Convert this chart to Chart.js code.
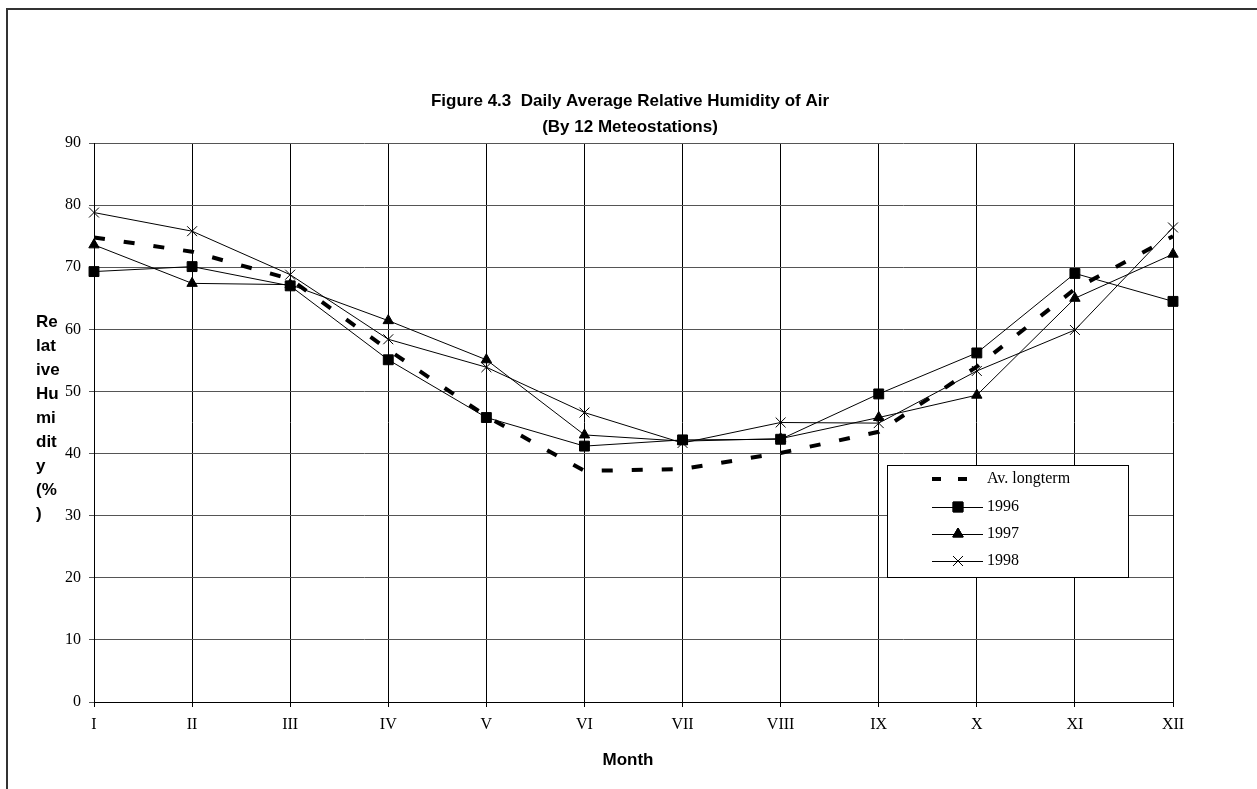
<!DOCTYPE html>
<html>
<head>
<meta charset="utf-8">
<script src="https://cdn.jsdelivr.net/npm/chart.js@4/dist/chart.umd.min.js"></script>
<style>
  html, body { margin: 0; padding: 0; background: #fff; }
  canvas { display: block; }
</style>
</head>
<body>
<canvas id="c" width="1257" height="789"></canvas>
<script>
const months = ["I", "II", "III", "IV", "V", "VI", "VII", "VIII", "IX", "X", "XI", "XII"];
const avLongterm = [74.8, 72.5, 68.1, 56.7, 46.0, 37.2, 37.5, 40.1, 43.5, 54.0, 66.5, 75.0];
const y1996 = [69.3, 70.1, 67.0, 55.1, 45.8, 41.2, 42.2, 42.3, 49.6, 56.2, 69.0, 64.5];
const y1997 = [73.6, 67.4, 67.2, 61.4, 55.1, 43.0, 42.0, 42.4, 45.8, 49.4, 65.0, 72.1];
const y1998 = [78.8, 75.8, 68.8, 58.4, 53.9, 46.6, 41.7, 45.0, 44.9, 53.3, 59.9, 76.4];
const yTicks = [0, 10, 20, 30, 40, 50, 60, 70, 80, 90];
const seriesNames = ["Av. longterm", "1996", "1997", "1998"];
const titleLines = ["Figure 4.3  Daily Average Relative Humidity of Air", "(By 12 Meteostations)"];
const yTitleLines = ["Re", "lat", "ive", "Hu", "mi", "dit", "y", "(%", ")"];
const xTitle = "Month";

const serif = "'Liberation Serif', 'Times New Roman', serif";
const sans = "'Liberation Sans', Arial, sans-serif";

const decor = {
  id: 'decor',
  beforeDraw(chart) {
    const ctx = chart.ctx;
    ctx.save();
    ctx.fillStyle = '#fff';
    ctx.fillRect(0, 0, chart.width, chart.height);
    ctx.restore();
  },
  afterDraw(chart) {
    const ctx = chart.ctx;
    ctx.save();
    // outer frame
    ctx.strokeStyle = '#333';
    ctx.lineWidth = 2;
    ctx.strokeRect(7, 9, 1400, 1000);
    // titles
    ctx.fillStyle = '#000';
    ctx.font = "bold 17px " + sans;
    ctx.textAlign = 'center';
    ctx.textBaseline = 'middle';
    ctx.fillText(titleLines[0], 630, 101);
    ctx.fillText(titleLines[1], 630, 127);
    ctx.fillText(xTitle, 628, 760);
    // y title
    ctx.textAlign = 'left';
    yTitleLines.forEach((t, i) => ctx.fillText(t, 36, 322 + i * 24));
    // legend
    const lx = 887, ly = 465, lw = 241, lh = 112;
    ctx.fillStyle = '#fff';
    ctx.fillRect(lx, ly, lw, lh);
    ctx.strokeStyle = '#000';
    ctx.lineWidth = 1;
    ctx.strokeRect(lx + 0.5, ly + 0.5, lw, lh);
    const rows = [479, 507, 534, 561];
    const ds = chart.data.datasets;
    ds.forEach((d, i) => {
      const y = rows[i];
      ctx.strokeStyle = '#000';
      ctx.fillStyle = '#000';
      if (i === 0) {
        ctx.lineWidth = 4;
        ctx.setLineDash([9, 17]);
        ctx.beginPath(); ctx.moveTo(932, y); ctx.lineTo(983, y); ctx.stroke();
        ctx.setLineDash([]);
      } else {
        ctx.lineWidth = 1;
        ctx.beginPath(); ctx.moveTo(932, y + 0.5); ctx.lineTo(983, y + 0.5); ctx.stroke();
        Chart.helpers.drawPoint(ctx, {pointStyle: d.pointStyle, radius: d.pointRadius, borderWidth: 1, rotation: 0}, 958, y);
        ctx.fill();
        ctx.stroke();
      }
      ctx.fillStyle = '#000';
      ctx.font = "16px " + serif;
      ctx.textAlign = 'left';
      ctx.textBaseline = 'middle';
      ctx.fillText(d.label, 987, y);
    });
    ctx.restore();
  }
};

new Chart(document.getElementById('c'), {
  type: 'line',
  data: {
    labels: months,
    datasets: [
      { label: seriesNames[0], data: avLongterm, borderColor: '#000', backgroundColor: '#000', borderWidth: 4, borderDash: [11, 19], pointRadius: 0, tension: 0 },
      { label: seriesNames[1], data: y1996, borderColor: '#000', backgroundColor: '#000', borderWidth: 1, pointStyle: 'rect', pointRadius: 7, pointBorderWidth: 1, tension: 0 },
      { label: seriesNames[2], data: y1997, borderColor: '#000', backgroundColor: '#000', borderWidth: 1, pointStyle: 'triangle', pointRadius: 6, pointBorderWidth: 1, tension: 0 },
      { label: seriesNames[3], data: y1998, borderColor: '#000', backgroundColor: '#000', borderWidth: 1, pointStyle: 'crossRot', pointRadius: 7, pointBorderWidth: 1, tension: 0 }
    ]
  },
  options: {
    responsive: false,
    animation: false,
    devicePixelRatio: 1,
    layout: { padding: { left: 0, top: 143, right: 84, bottom: 0 } },
    plugins: { legend: { display: false }, title: { display: false }, tooltip: { enabled: false } },
    scales: {
      x: {
        type: 'category',
        offset: false,
        grid: { color: '#000', lineWidth: 1, tickLength: 5, drawTicks: true },
        border: { color: '#000', width: 1 },
        ticks: { color: '#000', font: { family: serif, size: 16 }, padding: 8, maxRotation: 0, autoSkip: false },
        afterFit(s) { s.height = 87; }
      },
      y: {
        min: 0, max: 90,
        afterBuildTicks(s) { s.ticks = yTicks.map(v => ({ value: v })); },
        grid: { color: '#555', lineWidth: 1, tickLength: 5, drawTicks: true },
        border: { color: '#000', width: 1 },
        ticks: { color: '#000', font: { family: serif, size: 16 }, padding: 8 },
        afterFit(s) { s.width = 94; }
      }
    }
  },
  plugins: [decor]
});
</script>
</body>
</html>
